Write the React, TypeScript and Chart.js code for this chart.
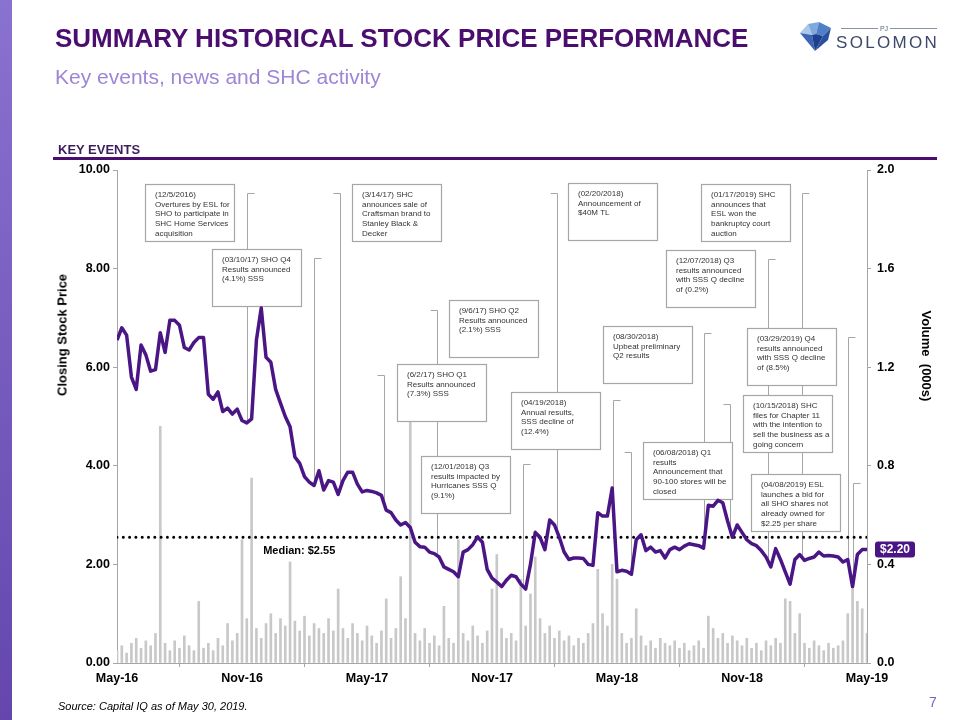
import React, { useEffect, useRef } from "react";
import { Chart, registerables } from "chart.js";

Chart.register(...registerables);

const FONT = '"Liberation Sans", Arial, Helvetica, sans-serif';

// x axis: weeks since May-2016
const X_TICKS = [0, 26, 52, 78, 104, 130, 156];
const X_LABELS = ["May-16", "Nov-16", "May-17", "Nov-17", "May-18", "Nov-18", "May-19"];
const PRICE_TICKS = [0, 2, 4, 6, 8, 10];
const VOLUME_TICKS = [0, 0.4, 0.8, 1.2, 1.6, 2.0];

// weekly closing stock price ($)
const PRICE = [
  6.55, 6.8, 6.65, 5.8, 5.55, 6.45, 6.25, 5.92, 5.95, 6.7,
  6.3, 6.95, 6.95, 6.85, 6.4, 6.35, 6.5, 6.6, 6.6, 5.45,
  5.35, 5.5, 5.1, 5.17, 5.05, 5.15, 4.92, 4.87, 4.95, 6.55,
  7.2, 6.2, 6.1, 5.55, 5.27, 5.0, 4.79, 4.18, 4.05, 3.78,
  3.67, 3.6, 3.9, 3.51, 3.7, 3.67, 3.42, 3.7, 3.87, 3.87,
  3.63, 3.47, 3.5, 3.48, 3.45, 3.4, 3.1, 3.05, 2.9, 2.8,
  2.85, 2.75, 2.45, 2.36, 2.35, 2.25, 2.22, 2.15, 1.95, 1.9,
  1.85, 1.75, 2.25, 2.3, 2.4, 2.56, 2.45, 1.9, 1.72, 1.64,
  1.55, 1.68, 1.78, 1.75, 1.6, 1.5, 2.0, 2.65, 2.55, 2.3,
  2.9, 2.8, 2.55, 2.25, 2.1, 2.13, 2.13, 2.12, 2.0, 1.98,
  3.05, 2.98, 2.98, 3.55, 1.85, 1.88, 1.86, 1.8, 2.5, 2.6,
  2.28, 2.35, 2.25, 2.28, 2.13, 2.3, 2.35, 2.3, 2.37, 2.42,
  2.4, 2.38, 2.33, 3.2, 3.18, 3.3, 3.25, 2.88, 2.55, 2.8,
  2.65, 2.5, 2.42, 2.38, 2.28, 2.15, 1.95, 2.32, 2.1, 1.85,
  1.6, 2.1, 2.2, 2.08, 2.12, 2.15, 2.25, 2.17, 2.18, 2.17,
  2.15, 2.05, 2.1, 1.55, 2.2, 2.3, 2.3,
];

// weekly volume (000s)
const VOLUME = [
  0.05, 0.07, 0.04, 0.08, 0.1, 0.06, 0.09, 0.07, 0.12, 0.96,
  0.08, 0.05, 0.09, 0.06, 0.11, 0.07, 0.05, 0.25, 0.06, 0.08,
  0.05, 0.1, 0.07, 0.16, 0.09, 0.12, 0.5, 0.18, 0.75, 0.14,
  0.1, 0.16, 0.2, 0.12, 0.18, 0.15, 0.41, 0.17, 0.13, 0.19,
  0.11, 0.16, 0.14, 0.12, 0.18, 0.13, 0.3, 0.14, 0.1, 0.16,
  0.12, 0.09, 0.15, 0.11, 0.08, 0.13, 0.26, 0.1, 0.14, 0.35,
  0.18, 1.1, 0.12, 0.09, 0.14, 0.08, 0.11, 0.07, 0.23, 0.1,
  0.08, 0.5, 0.12, 0.09, 0.15, 0.11, 0.08, 0.13, 0.3, 0.44,
  0.14, 0.1, 0.12, 0.09, 0.34, 0.15, 0.28, 0.43, 0.18, 0.12,
  0.15, 0.1, 0.13, 0.09, 0.11, 0.07, 0.1, 0.08, 0.12, 0.16,
  0.38, 0.2, 0.15, 0.4, 0.34, 0.12, 0.08, 0.1, 0.22, 0.11,
  0.07, 0.09, 0.06, 0.1, 0.08, 0.07, 0.09, 0.06, 0.08, 0.05,
  0.07, 0.09, 0.06, 0.19, 0.14, 0.1, 0.12, 0.08, 0.11, 0.09,
  0.07, 0.1, 0.06, 0.08, 0.05, 0.09, 0.07, 0.1, 0.08, 0.26,
  0.25, 0.12, 0.2, 0.08, 0.06, 0.09, 0.07, 0.05, 0.08, 0.06,
  0.07, 0.09, 0.2, 0.35, 0.25, 0.22, 0.12,
];

const MEDIAN = 2.55;
const MEDIAN_LABEL = "Median: $2.55";
const MEDIAN_LABEL_WEEK = 37.9;
const LAST_LABEL = "$2.20";

// key events: leader week, leader top (price), stub direction, box left (week), box top (price)
const EVENTS = [
  { wk: 27.0, top: 9.54, dir: -1, bx: 5.8, by: 9.72, lines: ["(12/5/2016)", "Overtures by ESL for", "SHO to participate in", "SHC Home Services", "acquisition"] },
  { wk: 41.0, top: 8.22, dir: -1, bx: 19.8, by: 8.4, lines: ["(03/10/17) SHO Q4", "Results announced", "(4.1%) SSS"] },
  { wk: 46.4, top: 9.54, dir: 1, bx: 48.9, by: 9.72, lines: ["(3/14/17) SHC", "announces sale of", "Craftsman brand to", "Stanley Black &", "Decker"] },
  { wk: 66.6, top: 7.16, dir: 1, bx: 69.0, by: 7.36, lines: ["(9/6/17) SHO Q2", "Results announced", "(2.1%) SSS"] },
  { wk: 55.5, top: 5.84, dir: 1, bx: 58.2, by: 6.06, lines: ["(6/2/17) SHO Q1", "Results announced", "(7.3%) SSS"] },
  { wk: 84.4, top: 4.04, dir: -1, bx: 63.2, by: 4.2, lines: ["(12/01/2018) Q3", "results impacted by", "Hurricanes SSS Q", "(9.1%)"] },
  { wk: 103.1, top: 5.33, dir: -1, bx: 81.9, by: 5.5, lines: ["(04/19/2018)", "Annual results,", "SSS decline of", "(12.4%)"] },
  { wk: 91.45, top: 9.53, dir: 1, bx: 93.8, by: 9.74, lines: ["(02/20/2018)", "Announcement of", "$40M TL"] },
  { wk: 122.1, top: 6.69, dir: -1, bx: 101.0, by: 6.84, lines: ["(08/30/2018)", "Upbeat preliminary", "Q2 results"] },
  { wk: 106.9, top: 4.28, dir: 1, bx: 109.5, by: 4.48, lines: ["(06/08/2018) Q1", "results", "Announcement that", "90-100 stores will be", "closed"] },
  { wk: 142.5, top: 9.53, dir: -1, bx: 121.4, by: 9.72, lines: ["(01/17/2019) SHC", "announces that", "ESL won the", "bankruptcy court", "auction"] },
  { wk: 135.5, top: 8.19, dir: -1, bx: 114.2, by: 8.38, lines: ["(12/07/2018) Q3", "results announced", "with SSS Q decline", "of (0.2%)"] },
  { wk: 152.1, top: 6.61, dir: -1, bx: 131.0, by: 6.8, lines: ["(03/29/2019) Q4", "results announced", "with SSS Q decline", "of (8.5%)"] },
  { wk: 127.6, top: 5.25, dir: 1, bx: 130.3, by: 5.44, lines: ["(10/15/2018) SHC", "files for Chapter 11", "with the intention to", "sell the business as a", "going concern"] },
  { wk: 153.0, top: 3.65, dir: -1, bx: 131.9, by: 3.83, lines: ["(04/08/2019) ESL", "launches a bid for", "all SHO shares not", "already owned for", "$2.25 per share"] },
];

const PURPLE = "#4a1585";
const GRAY = "#a6a6a6";

function priceAt(wk: number) {
  const i = Math.floor(wk);
  if (i >= PRICE.length - 1) return PRICE[PRICE.length - 1];
  const f = wk - i;
  return PRICE[i] * (1 - f) + PRICE[i + 1] * f;
}

const eventsPlugin = {
  id: "keyEvents",
  afterDatasetDraw(chart: any, args: any) {
    if (args.index !== 2) return;
    const { ctx, scales } = chart;
    const x = scales.x;
    const y = scales.y;
    ctx.save();
    ctx.strokeStyle = GRAY;
    ctx.lineWidth = 1;
    for (const ev of EVENTS) {
      const lx = Math.round(x.getPixelForValue(ev.wk)) + 0.5;
      const ty = Math.round(y.getPixelForValue(ev.top)) + 0.5;
      const py = y.getPixelForValue(priceAt(ev.wk));
      ctx.beginPath();
      ctx.moveTo(lx - ev.dir * 7, ty);
      ctx.lineTo(lx, ty);
      ctx.lineTo(lx, py);
      ctx.stroke();
    }
    const W = 89;
    const H = 57;
    for (const ev of EVENTS) {
      const left = Math.round(x.getPixelForValue(ev.bx)) + 0.5;
      const top = Math.round(y.getPixelForValue(ev.by)) + 0.5;
      ctx.fillStyle = "#ffffff";
      ctx.fillRect(left, top, W, H);
      ctx.strokeStyle = GRAY;
      ctx.lineWidth = 1.2;
      ctx.strokeRect(left, top, W, H);
      ctx.fillStyle = "#333333";
      ctx.font = `8px ${FONT}`;
      ctx.textAlign = "left";
      ctx.textBaseline = "middle";
      ev.lines.forEach((t, i) => {
        ctx.fillText(t, left + 9.5, top + 10 + i * 9.8);
      });
    }
    ctx.restore();
  },
  afterDatasetsDraw(chart: any) {
    const { ctx, scales, chartArea } = chart;
    const x = scales.x;
    const y = scales.y;
    ctx.save();
    // median label
    ctx.fillStyle = "#000";
    ctx.font = `bold 11px ${FONT}`;
    ctx.textAlign = "center";
    ctx.textBaseline = "middle";
    ctx.fillText(MEDIAN_LABEL, x.getPixelForValue(MEDIAN_LABEL_WEEK), y.getPixelForValue(MEDIAN) + 14);
    // last price tag
    const cy = y.getPixelForValue(PRICE[PRICE.length - 1]);
    const lx = chartArea.right + 8;
    const w = 40;
    const h = 16;
    ctx.fillStyle = PURPLE;
    ctx.beginPath();
    const r = 3;
    const t = cy - h / 2;
    ctx.moveTo(lx + r, t);
    ctx.lineTo(lx + w - r, t);
    ctx.quadraticCurveTo(lx + w, t, lx + w, t + r);
    ctx.lineTo(lx + w, t + h - r);
    ctx.quadraticCurveTo(lx + w, t + h, lx + w - r, t + h);
    ctx.lineTo(lx + r, t + h);
    ctx.quadraticCurveTo(lx, t + h, lx, t + h - r);
    ctx.lineTo(lx, t + r);
    ctx.quadraticCurveTo(lx, t, lx + r, t);
    ctx.fill();
    ctx.fillStyle = "#fff";
    ctx.font = `bold 12px ${FONT}`;
    ctx.fillText(LAST_LABEL, lx + w / 2, cy + 0.5);
    ctx.restore();
  },
};

export default function App() {
  const ref = useRef<HTMLCanvasElement | null>(null);

  useEffect(() => {
    const canvas = ref.current;
    if (!canvas) return;
    Chart.defaults.font.family = FONT;
    const tickFont = { size: 12.5, weight: "bold" as const };
    const grid = { display: true, drawOnChartArea: false, drawTicks: true, tickLength: 4, color: GRAY };
    const border = { display: true, color: GRAY, width: 1 };
    const chart = new Chart(canvas, {
      type: "line",
      data: {
        datasets: [
          {
            type: "line",
            label: "Price",
            data: PRICE.map((p, i) => ({ x: i, y: p })),
            borderColor: PURPLE,
            borderWidth: 3.5,
            pointRadius: 0,
            tension: 0,
            borderJoinStyle: "round",
            yAxisID: "y",
          },
          {
            type: "line",
            label: "Median",
            data: [
              { x: X_TICKS[0], y: MEDIAN },
              { x: X_TICKS[X_TICKS.length - 1], y: MEDIAN },
            ],
            borderColor: "#000",
            borderWidth: 3,
            borderDash: [0, 6.3],
            borderCapStyle: "round",
            pointRadius: 0,
            yAxisID: "y",
          },
          {
            type: "bar",
            label: "Volume",
            data: VOLUME.map((v, i) => ({ x: i, y: v })),
            backgroundColor: "#c8c8c8",
            barThickness: 2,
            yAxisID: "y1",
          } as any,
        ],
      },
      options: {
        responsive: false,
        animation: false,
        layout: { padding: { top: 170, bottom: 20, left: 0, right: 0 } },
        plugins: { legend: { display: false }, tooltip: { enabled: false } },
        scales: {
          x: {
            type: "linear",
            min: X_TICKS[0],
            max: X_TICKS[X_TICKS.length - 1],
            offset: false,
            afterFit: (s: any) => {
              s.height = 37;
            },
            afterBuildTicks: (s: any) => {
              s.ticks = X_TICKS.map((v) => ({ value: v }));
            },
            ticks: {
              autoSkip: false,
              maxRotation: 0,
              padding: 4,
              color: "#000",
              font: tickFont,
              callback: (_v: any, i: number) => X_LABELS[i],
            },
            grid,
            border,
          },
          y: {
            type: "linear",
            position: "left",
            min: 0,
            max: 10,
            afterFit: (s: any) => {
              s.width = 117;
            },
            afterBuildTicks: (s: any) => {
              s.ticks = PRICE_TICKS.map((v) => ({ value: v }));
            },
            ticks: {
              padding: 3,
              color: "#000",
              font: tickFont,
              callback: (v: any) => Number(v).toFixed(2),
            },
            grid,
            border,
          },
          y1: {
            type: "linear",
            position: "right",
            min: 0,
            max: 2,
            afterFit: (s: any) => {
              s.width = 93;
            },
            afterBuildTicks: (s: any) => {
              s.ticks = VOLUME_TICKS.map((v) => ({ value: v }));
            },
            ticks: {
              padding: 6,
              color: "#000",
              font: tickFont,
              callback: (v: any) => Number(v).toFixed(1),
            },
            grid,
            border,
          },
        },
      },
      plugins: [eventsPlugin],
    } as any);
    return () => chart.destroy();
  }, []);

  return (
    <div
      style={{
        position: "absolute",
        left: 0,
        top: 0,
        width: 960,
        height: 720,
        background: "#fff",
        overflow: "hidden",
        fontFamily: FONT,
      }}
    >
      <div
        style={{
          position: "absolute",
          left: 0,
          top: 0,
          width: 12,
          height: 720,
          background: "linear-gradient(#8a72d0, #6446ad)",
        }}
      />
      <canvas ref={ref} width={960} height={720} style={{ position: "absolute", left: 0, top: 0, width: 960, height: 720 }} />
      <div
        style={{
          position: "absolute",
          left: 55,
          top: 22.7,
          fontSize: 26,
          lineHeight: "30px",
          fontWeight: 700,
          color: "#4b0d6e",
          whiteSpace: "nowrap",
        }}
      >
        SUMMARY HISTORICAL STOCK PRICE PERFORMANCE
      </div>
      <div
        style={{
          position: "absolute",
          left: 55,
          top: 64.7,
          fontSize: 21,
          lineHeight: "24px",
          color: "#9d86d6",
          whiteSpace: "nowrap",
        }}
      >
        Key events, news and SHC activity
      </div>
      <svg style={{ position: "absolute", left: 0, top: 0 }} width={960} height={70}>
        <polygon points="800,33 808,24 812,35" fill="#a9c8ea" />
        <polygon points="808,24 819,22 816,34 812,35" fill="#7fa8dc" />
        <polygon points="819,22 831,28 823,36 816,34" fill="#4f7fc6" />
        <polygon points="800,33 812,35 815,51" fill="#3c66b5" />
        <polygon points="812,35 816,34 823,36 815,51" fill="#1e3f8e" />
        <polygon points="823,36 831,28 828,40 815,51" fill="#2a4f9f" />
        <line x1={841} y1={28.5} x2={878} y2={28.5} stroke="#8a93a8" strokeWidth={1} />
        <line x1={890} y1={28.5} x2={937} y2={28.5} stroke="#8a93a8" strokeWidth={1} />
        <text x={884} y={31} fontSize={7} fill="#5a6480" textAnchor="middle" fontFamily={FONT}>
          PJ
        </text>
        <text x={836} y={48} fontSize={17} fill="#3b4a6b" letterSpacing={2.3} fontFamily={FONT}>
          SOLOMON
        </text>
      </svg>
      <div
        style={{
          position: "absolute",
          left: 58,
          top: 142,
          fontSize: 13,
          lineHeight: "15px",
          fontWeight: 700,
          color: "#3b1f5e",
          whiteSpace: "nowrap",
        }}
      >
        KEY EVENTS
      </div>
      <div style={{ position: "absolute", left: 53, top: 157, width: 884, height: 3, background: "#4b0d6e" }} />
      <div
        style={{
          position: "absolute",
          left: 62,
          top: 335,
          transform: "translate(-50%, -50%) rotate(-90deg)",
          fontSize: 13,
          fontWeight: 700,
          color: "#000",
          whiteSpace: "nowrap",
        }}
      >
        Closing Stock Price
      </div>
      <div
        style={{
          position: "absolute",
          left: 926,
          top: 356,
          transform: "translate(-50%, -50%) rotate(90deg)",
          fontSize: 13,
          fontWeight: 700,
          color: "#000",
          whiteSpace: "pre",
        }}
      >
        {"Volume  (000s)"}
      </div>
      <div
        style={{
          position: "absolute",
          left: 58,
          top: 700,
          fontSize: 11,
          lineHeight: "13px",
          fontStyle: "italic",
          color: "#000",
          whiteSpace: "nowrap",
        }}
      >
        Source: Capital IQ as of May 30, 2019.
      </div>
      <div
        style={{
          position: "absolute",
          left: 929,
          top: 694,
          fontSize: 14,
          lineHeight: "16px",
          color: "#7b5fc4",
        }}
      >
        7
      </div>
    </div>
  );
}
